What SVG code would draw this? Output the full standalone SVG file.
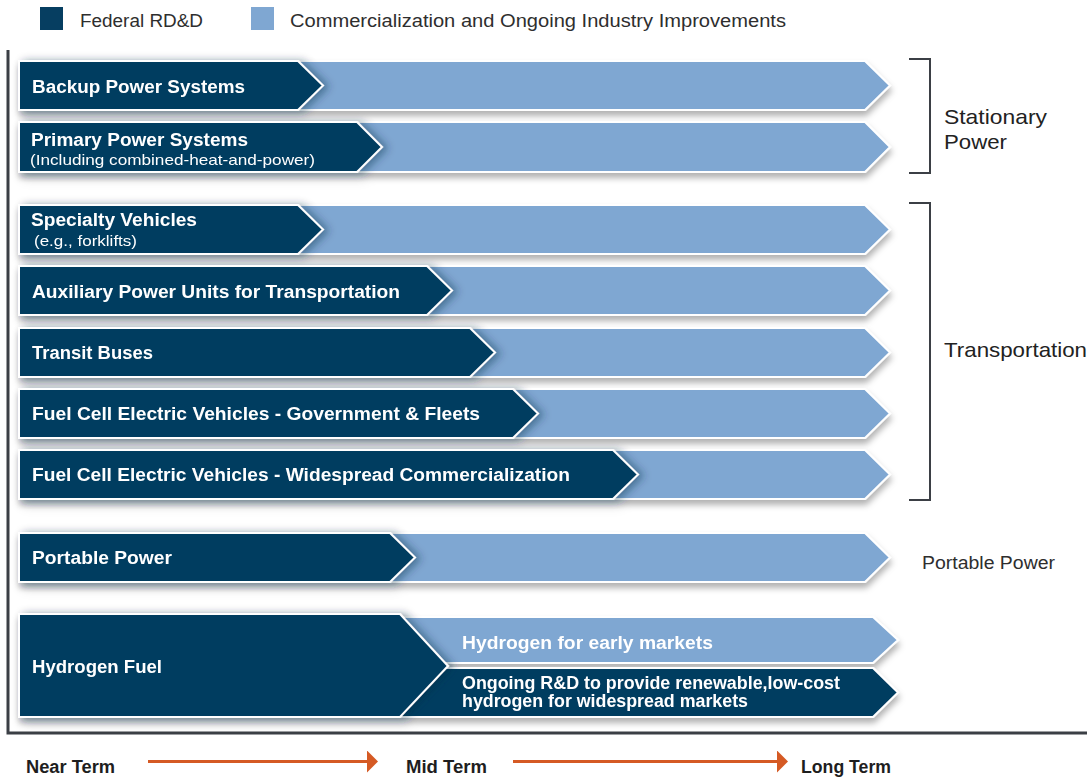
<svg xmlns="http://www.w3.org/2000/svg" width="1087" height="777" viewBox="0 0 1087 777">
<style>
.dk{fill:#063e61;stroke:#fff;stroke-width:2;stroke-linejoin:miter}
.lt{fill:#7fa7d2;stroke:#fff;stroke-width:2}
.bt{font-family:"Liberation Sans",Arial,sans-serif;font-weight:bold;font-size:17.5px;fill:#fff}
.st{font-family:"Liberation Sans",Arial,sans-serif;font-size:15px;fill:#fff}
.lg{font-family:"Liberation Sans",Arial,sans-serif;font-size:17.5px;fill:#2e2e2e}
.rl{font-family:"Liberation Sans",Arial,sans-serif;font-size:21px;fill:#222}
.ax{font-family:"Liberation Sans",Arial,sans-serif;font-weight:bold;font-size:17.5px;fill:#1e1e1e}
.br{fill:none;stroke:#3b3f45;stroke-width:2}
.ar{stroke:#d55a24;stroke-width:3;fill:none}
</style>
<defs>
<filter id="sh" x="-5%" y="-30%" width="115%" height="170%">
<feDropShadow dx="1" dy="5" stdDeviation="3" flood-color="#000" flood-opacity="0.3"/>
</filter>
<filter id="sh2" x="-10%" y="-20%" width="130%" height="140%">
<feDropShadow dx="5" dy="1" stdDeviation="4" flood-color="#0a2a45" flood-opacity="0.45"/>
</filter>
<marker id="ah" viewBox="0 0 11 22" refX="1" refY="11" markerWidth="11" markerHeight="22" markerUnits="userSpaceOnUse" orient="auto">
<path d="M0,0 L11,11 L0,22 Z" fill="#d55a24"/>
</marker>
</defs>
<rect width="1087" height="777" fill="#fff"/>

<g id="legend">
<rect x="40" y="7" width="23" height="23" fill="#063e61"/>
<text class="lg" x="80" y="27" textLength="123" lengthAdjust="spacingAndGlyphs">Federal RD&amp;D</text>
<rect x="251" y="7" width="23" height="23" fill="#7fa7d2"/>
<text class="lg" x="290" y="27" textLength="496" lengthAdjust="spacingAndGlyphs">Commercialization and Ongoing Industry Improvements</text>
</g>

<g id="frame">
<path d="M8,50 V733 H1087" fill="none" stroke="#3b3f45" stroke-width="3"/>
</g>

<g id="row-backup" filter="url(#sh)">
<path class="lt" d="M19,61 H865 L890,85.5 L865,110 H19 Z"/>
<path class="dk" filter="url(#sh2)" d="M19,61 H298 L323,85.5 L298,110 H19 Z"/>
<text class="bt" x="32" y="93" textLength="213" lengthAdjust="spacingAndGlyphs">Backup Power Systems</text>
</g>

<g id="row-primary" filter="url(#sh)">
<path class="lt" d="M19,122 H865 L890,147 L865,172 H19 Z"/>
<path class="dk" filter="url(#sh2)" d="M19,122 H357 L382,147 L357,172 H19 Z"/>
<text class="bt" x="31" y="146" textLength="217" lengthAdjust="spacingAndGlyphs">Primary Power Systems</text>
<text class="st" x="30" y="165" textLength="285" lengthAdjust="spacingAndGlyphs">(Including combined-heat-and-power)</text>
</g>

<g id="row-specialty" filter="url(#sh)">
<path class="lt" d="M19,205 H865 L890,229.5 L865,254 H19 Z"/>
<path class="dk" filter="url(#sh2)" d="M19,205 H298 L323,229.5 L298,254 H19 Z"/>
<text class="bt" x="31" y="226" textLength="166" lengthAdjust="spacingAndGlyphs">Specialty Vehicles</text>
<text class="st" x="34" y="246" textLength="103" lengthAdjust="spacingAndGlyphs">(e.g., forklifts)</text>
</g>

<g id="row-apu" filter="url(#sh)">
<path class="lt" d="M19,266 H865 L890,290.5 L865,315 H19 Z"/>
<path class="dk" filter="url(#sh2)" d="M19,266 H427 L452,290.5 L427,315 H19 Z"/>
<text class="bt" x="32" y="298" textLength="368" lengthAdjust="spacingAndGlyphs">Auxiliary Power Units for Transportation</text>
</g>

<g id="row-transit" filter="url(#sh)">
<path class="lt" d="M19,328 H865 L890,352.5 L865,377 H19 Z"/>
<path class="dk" filter="url(#sh2)" d="M19,328 H470 L495,352.5 L470,377 H19 Z"/>
<text class="bt" x="32" y="359" textLength="121" lengthAdjust="spacingAndGlyphs">Transit Buses</text>
</g>

<g id="row-fcev-gov" filter="url(#sh)">
<path class="lt" d="M19,389 H865 L890,413.5 L865,438 H19 Z"/>
<path class="dk" filter="url(#sh2)" d="M19,389 H513 L538,413.5 L513,438 H19 Z"/>
<text class="bt" x="32" y="420" textLength="448" lengthAdjust="spacingAndGlyphs">Fuel Cell Electric Vehicles - Government &amp; Fleets</text>
</g>

<g id="row-fcev-wide" filter="url(#sh)">
<path class="lt" d="M19,450 H865 L890,474.5 L865,499 H19 Z"/>
<path class="dk" filter="url(#sh2)" d="M19,450 H613 L638,474.5 L613,499 H19 Z"/>
<text class="bt" x="32" y="481" textLength="538" lengthAdjust="spacingAndGlyphs">Fuel Cell Electric Vehicles - Widespread Commercialization</text>
</g>

<g id="row-portable" filter="url(#sh)">
<path class="lt" d="M19,533 H865 L890,557.5 L865,582 H19 Z"/>
<path class="dk" filter="url(#sh2)" d="M19,533 H390 L415,557.5 L390,582 H19 Z"/>
<text class="bt" x="32" y="564" textLength="140" lengthAdjust="spacingAndGlyphs">Portable Power</text>
</g>

<g id="row-hydrogen" filter="url(#sh)">
<path class="lt" d="M380,617 H873 L898,640 L873,663 H380 Z"/>
<path class="dk" d="M380,668 H873 L898,692.5 L873,717 H380 Z"/>
<path class="dk" filter="url(#sh2)" d="M19,614 H400 L448,666 L400,717 H19 Z"/>
<text class="bt" x="32" y="673" textLength="130" lengthAdjust="spacingAndGlyphs">Hydrogen Fuel</text>
<text class="bt" x="462" y="649" textLength="251" lengthAdjust="spacingAndGlyphs">Hydrogen for early markets</text>
<text class="bt" x="462" y="689" textLength="378" lengthAdjust="spacingAndGlyphs">Ongoing R&amp;D to provide renewable,low-cost</text>
<text class="bt" x="462" y="707" textLength="286" lengthAdjust="spacingAndGlyphs">hydrogen for widespread markets</text>
</g>

<g id="group-stationary">
<path class="br" d="M909,59 H930 V173 H909"/>
<text class="rl" x="944" y="124" textLength="103" lengthAdjust="spacingAndGlyphs">Stationary</text>
<text class="rl" x="944" y="149" textLength="63" lengthAdjust="spacingAndGlyphs">Power</text>
</g>

<g id="group-transportation">
<path class="br" d="M909,203 H930 V500 H909"/>
<text class="rl" x="944" y="357" textLength="143" lengthAdjust="spacingAndGlyphs">Transportation</text>
</g>

<g id="group-portable">
<text class="lg" x="922" y="569" textLength="133" lengthAdjust="spacingAndGlyphs">Portable Power</text>
</g>

<g id="timeline">
<text class="ax" x="26" y="773" textLength="89" lengthAdjust="spacingAndGlyphs">Near Term</text>
<text class="ax" x="406" y="773" textLength="81" lengthAdjust="spacingAndGlyphs">Mid Term</text>
<text class="ax" x="801" y="773" textLength="90" lengthAdjust="spacingAndGlyphs">Long Term</text>
</g>

<g id="connectors">
<line class="ar" x1="148" y1="761.5" x2="368" y2="761.5" marker-end="url(#ah)"/>
<line class="ar" x1="513" y1="761.5" x2="778" y2="761.5" marker-end="url(#ah)"/>
</g>
</svg>
